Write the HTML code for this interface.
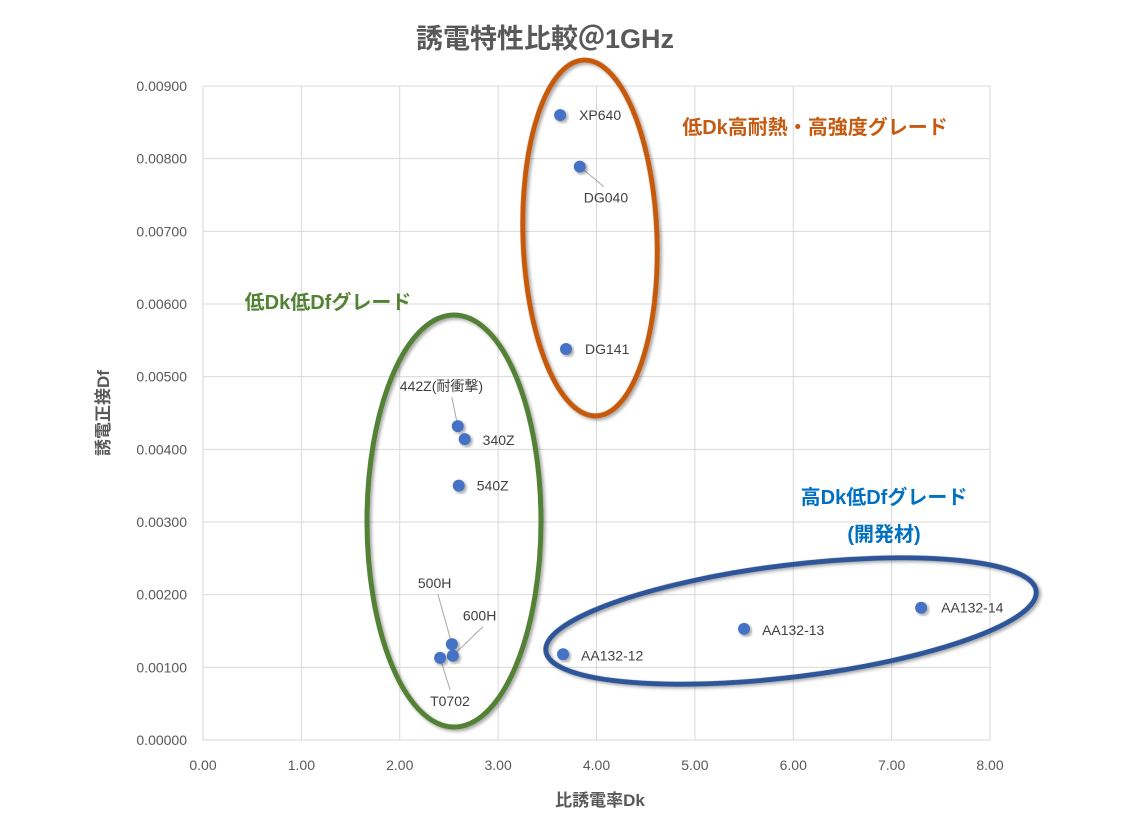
<!DOCTYPE html>
<html><head><meta charset="utf-8">
<style>
body{margin:0;background:#fff;}
svg{display:block;font-family:"Liberation Sans","Noto Sans CJK JP",sans-serif;}
</style></head>
<body>
<svg id="c" width="1132" height="819" viewBox="0 0 1132 819">
<defs>
<filter id="sh" x="-20%" y="-20%" width="140%" height="140%"><feDropShadow dx="2" dy="2" stdDeviation="1.5" flood-color="#000" flood-opacity="0.35"/></filter>
</defs>
<text x="545" y="48" text-anchor="middle" font-size="27" font-weight="bold" fill="#595959">誘電特性比較＠1GHz</text>
<g id="grid"></g>
<g id="ticks"></g>
<text x="600" y="806" text-anchor="middle" font-size="17" font-weight="bold" fill="#595959">比誘電率Dk</text>
<text transform="translate(109,413) rotate(-90)" text-anchor="middle" font-size="17" font-weight="bold" fill="#595959">誘電正接Df</text>
<g id="ellipses">
<ellipse cx="590" cy="238" rx="67" ry="178" transform="rotate(-2 590 238)" fill="none" stroke="#c55a11" stroke-width="5" filter="url(#sh)"/>
<ellipse cx="454" cy="521" rx="87" ry="206" fill="none" stroke="#538135" stroke-width="5" filter="url(#sh)"/>
<ellipse cx="791" cy="621" rx="247" ry="56" transform="rotate(-7 791 621)" fill="none" stroke="#2f5597" stroke-width="5" filter="url(#sh)"/>
</g>
<text x="815" y="134" text-anchor="middle" font-size="20" font-weight="bold" fill="#c55a11">低Dk高耐熱・高強度グレード</text>
<text x="328" y="309" text-anchor="middle" font-size="20" font-weight="bold" fill="#538135">低Dk低Dfグレード</text>
<text x="884" y="504" text-anchor="middle" font-size="20" font-weight="bold" fill="#0070c0">高Dk低Dfグレード</text>
<text x="884" y="541" text-anchor="middle" font-size="20" font-weight="bold" fill="#0070c0">(開発材)</text>
<g id="leaders"></g>
<g id="pts"></g>
<g id="lbls"></g>
</svg>
<script>
const names=["XP640","DG040","DG141","442Z(耐衝撃)","340Z","540Z","500H","600H","T0702","AA132-12","AA132-13","AA132-14"];
const dk=[3.63,3.83,3.69,2.59,2.66,2.60,2.53,2.54,2.41,3.66,5.50,7.30];
const df=[0.00860,0.00789,0.00538,0.00432,0.00414,0.00350,0.00132,0.00116,0.00113,0.00118,0.00153,0.00182];
const xTicks=[0,1,2,3,4,5,6,7,8];
const yTicks=[0,0.001,0.002,0.003,0.004,0.005,0.006,0.007,0.008,0.009];
const lblDx=[19,4,19,-58,18,18,-34,10,-10,18,18,20];
const lblDy=[5,36,5,-35,6,5,-56,-35,48,6,6,5];
const leader=[0,1,0,1,0,0,1,1,1,0,0,0];
const leadEx=[0,20,0,52,0,0,20,20,20,0,0,0];
const NS="http://www.w3.org/2000/svg";
const X=v=>203+v*(787/8), Y=v=>740-v*(654/0.009);
function mk(t,a,p){const e=document.createElementNS(NS,t);for(const k in a)e.setAttribute(k,a[k]);p.appendChild(e);return e;}
const g=document.getElementById('grid'),tk=document.getElementById('ticks');
xTicks.forEach(v=>{const l=mk('line',{x1:X(v),x2:X(v),y1:Y(0.009),y2:740,stroke:'#d9d9d9','stroke-width':1},g);

const t=mk('text',{x:X(v),y:770,'text-anchor':'middle','font-size':14,fill:'#595959'},tk);t.textContent=v.toFixed(2);
});
yTicks.forEach(v=>{const l=mk('line',{x1:203,x2:990,y1:Y(v),y2:Y(v),stroke:'#d9d9d9','stroke-width':1},g);

const t=mk('text',{x:187,y:Y(v)+5,'text-anchor':'end','font-size':14,fill:'#595959'},tk);t.textContent=v.toFixed(5);
});
const P=document.getElementById('pts'),L=document.getElementById('lbls'),Ld=document.getElementById('leaders');
names.forEach((n,i)=>{const cx=X(dk[i]),cy=Y(df[i]);
const c=mk('circle',{cx:cx,cy:cy,r:6,fill:'#4472c4',filter:'url(#sh)'},P);

const lx=cx+lblDx[i],ly=cy+lblDy[i];
const t=mk('text',{x:lx,y:ly,'font-size':14,fill:'#404040'},L);t.textContent=n;

if(leader[i]){const ex=lx+leadEx[i],ey=lblDy[i]<0?ly+6:ly-16;
const l=mk('line',{x1:cx,y1:cy,x2:ex,y2:ey,stroke:'#a6a6a6','stroke-width':1},Ld);
}
});
</script>
</body></html>
